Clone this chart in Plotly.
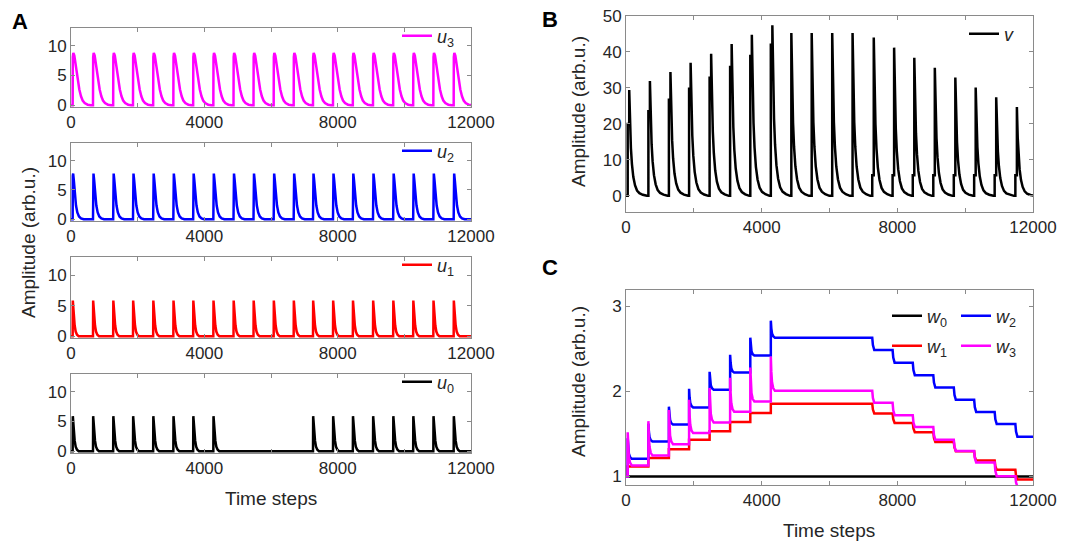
import plotly.graph_objects as go

# ---------------- data ----------------
# onset time of every input pulse (time steps)
pulse_t = [50, 660, 1265, 1860, 2465, 3070, 3665, 4270, 4875, 5475,
           6080, 6680, 7260, 7860, 8455, 9060, 9665, 10265, 10870, 11480]

# peak amplitudes of the inputs (None = no pulse)
u3_peak = [8.8] * 20
u2_peak = [7.8] * 20
u1_peak = [5.85] * 20
u0_peak = [5.9] * 8 + [None] * 4 + [5.9] * 8

u3_offs = [0, 5, 20, 50, 90, 150, 200, 250, 300, 360, 450, 550]
u3_frac = [0, 0.92, 1.0, 0.95, 0.75, 0.5, 0.3, 0.17, 0.09, 0.04, 0.01, 0]
u2_offs = [0, 5, 15, 35, 70, 100, 140, 190, 250, 330]
u2_frac = [0, 0.95, 1.0, 0.85, 0.5, 0.3, 0.15, 0.06, 0.02, 0]
u1_offs = [0, 5, 20, 40, 60, 90, 130, 180]
u1_frac = [0, 1.0, 0.75, 0.5, 0.3, 0.13, 0.04, 0]
u0_offs = [0, 5, 20, 40, 60, 90, 130, 180]
u0_frac = [0, 1.0, 0.75, 0.5, 0.3, 0.13, 0.04, 0]

# output v: shoulder level, then peak
v_peak = [29.4, 31.9, 34.4, 37.0, 39.5, 42.2, 44.8, 47.4, 45.3, 45.3,
          45.3, 45.3, 44.0, 41.2, 38.4, 35.6, 32.9, 30.1, 27.4, 24.7]
v_shoulder = [20.0, 23.5, 26.7, 29.8, 32.8, 35.8, 38.9, 42.0, None, None,
              None, None, 5.7, 5.7, 5.7, 5.7, 5.7, 5.7, 5.7, 5.7]
v_delay = 45
v_offs = [0, 10, 25, 50, 80, 120, 170, 230, 300, 400, 520]
v_frac = [1, 0.85, 0.65, 0.45, 0.3, 0.18, 0.1, 0.05, 0.025, 0.01, 0]

# weights: level reached after each pulse, and transient spike height
w0_level = [1.0] * 20
w1_level = [1.117, 1.218, 1.32, 1.43, 1.53, 1.64, 1.745, 1.854, 1.854, 1.854,
            1.854, 1.854, 1.74, 1.628, 1.52, 1.405, 1.296, 1.187, 1.078, 0.965]
w2_level = [1.207, 1.41, 1.61, 1.81, 2.02, 2.22, 2.42, 2.63, 2.63, 2.63,
            2.63, 2.63, 2.485, 2.337, 2.19, 2.045, 1.90, 1.756, 1.616, 1.468]
w3_level = [1.13, 1.245, 1.38, 1.51, 1.635, 1.76, 1.88, 2.006, 2.006, 2.006,
            2.006, 2.006, 1.865, 1.72, 1.58, 1.43, 1.30, 1.164, 1.004, 0.88]
w2_spike = [1.45, 1.62, 1.82, 2.03, 2.23, 2.43, 2.63, 2.83] + [None] * 12
w3_spike = [1.52, 1.65, 1.78, 1.90, 2.04, 2.16, 2.28, 2.41] + [None] * 12
spike_offs = [0, 15, 35, 70, 120]
spike_frac = [1, 0.55, 0.25, 0.08, 0]
step_offs = [0, 20, 60]
step_frac = [0, 0.6, 1.0]

T_END = 12000
x_ticks = [0, 4000, 8000, 12000]
x_text = ["0", "4000", "8000", "12000"]
x_minor_step = 2000

# ---------------- build traces ----------------
def pulse_train(peaks, offs, frac):
    xs, ys = [0], [0]
    for t, p in zip(pulse_t, peaks):
        if p is None:
            continue
        for o, f in zip(offs, frac):
            xs.append(t + o)
            ys.append(p * f)
    xs.append(T_END)
    ys.append(0)
    return xs, ys


def v_train():
    xs, ys = [0], [0]
    for t, p, s in zip(pulse_t, v_peak, v_shoulder):
        xs.append(t); ys.append(0)
        if s is not None:
            xs += [t, t + v_delay]; ys += [s, s]
            t0 = t + v_delay
        else:
            t0 = t
        for o, f in zip(v_offs, v_frac):
            xs.append(t0 + o)
            ys.append(p * f)
    xs.append(T_END); ys.append(0)
    return xs, ys


def w_train(levels, spikes=None):
    prev = 1.0
    xs, ys = [0], [prev]
    for i, t in enumerate(pulse_t):
        lvl = levels[i]
        sp = spikes[i] if spikes else None
        if lvl == prev and sp is None:
            continue
        xs.append(t); ys.append(prev)
        if sp is not None:
            for o, f in zip(spike_offs, spike_frac):
                xs.append(t + o)
                ys.append(lvl + (sp - lvl) * f)
        elif lvl < prev:
            for o, f in zip(step_offs, step_frac):
                xs.append(t + o)
                ys.append(prev + (lvl - prev) * f)
        else:
            xs.append(t); ys.append(lvl)
        prev = lvl
    xs.append(T_END); ys.append(prev)
    return xs, ys


W = 1069
H = 543
FONT = "Arial, Liberation Sans, sans-serif"
TXT = "#262626"
AX = "#8a8a8a"


def px(x):
    return x / W


def py(y):
    return 1 - y / H


fig = go.Figure()

A_left, A_right = 71, 471
A_rows = [
    ("", 28, 107, pulse_train(u3_peak, u3_offs, u3_frac), "#ff00ff", "<i>u</i><sub>3</sub>", "legend"),
    ("2", 143, 221, pulse_train(u2_peak, u2_offs, u2_frac), "#0000ff", "<i>u</i><sub>2</sub>", "legend2"),
    ("3", 257, 338, pulse_train(u1_peak, u1_offs, u1_frac), "#ff0000", "<i>u</i><sub>1</sub>", "legend3"),
    ("4", 374, 453, pulse_train(u0_peak, u0_offs, u0_frac), "#000000", "<i>u</i><sub>0</sub>", "legend4"),
]

axis_common = dict(showline=True, linecolor=AX, linewidth=1, mirror="allticks",
                   ticks="inside", ticklen=4, tickcolor=AX, showgrid=False,
                   zeroline=False, automargin=False,
                   tickfont=dict(family=FONT, size=17, color=TXT))
x_minor = dict(tick0=0, dtick=x_minor_step, ticks="inside", ticklen=4,
               tickcolor=AX, showgrid=False)

layout = dict(width=W, height=H, autosize=False,
              margin=dict(l=0, r=0, t=0, b=0, pad=0, autoexpand=False),
              template="none",
              paper_bgcolor="white", plot_bgcolor="white", showlegend=True)

for suf, ytop, ybot, (xs, ys), col, name, leg in A_rows:
    fig.add_trace(go.Scatter(x=xs, y=ys, mode="lines", line=dict(color=col, width=2.5),
                             name=name, xaxis="x" + suf, yaxis="y" + suf, legend=leg))
    layout["xaxis" + suf] = dict(domain=[px(A_left), px(A_right)], anchor="y" + suf,
                                 range=[0, T_END], tickvals=x_ticks, ticktext=x_text,
                                 minor=x_minor, **axis_common)
    layout["yaxis" + suf] = dict(domain=[py(ybot), py(ytop)], anchor="x" + suf,
                                 range=[-0.3, 13], tickvals=[0, 5, 10], **axis_common)
    layout[leg] = dict(x=px(397), y=py((ytop + 8)), xanchor="left", yanchor="middle",
                       bgcolor="rgba(0,0,0,0)", borderwidth=0,
                       font=dict(family=FONT, size=18, color=TXT))

B_left, B_right = 626, 1033
xs, ys = v_train()
fig.add_trace(go.Scatter(x=xs, y=ys, mode="lines", line=dict(color="#000000", width=2.5),
                         name="<i>v</i>", xaxis="x5", yaxis="y5", legend="legend5"))
layout["xaxis5"] = dict(domain=[px(B_left), px(B_right)], anchor="y5", range=[0, T_END],
                        tickvals=x_ticks, ticktext=x_text, minor=x_minor, **axis_common)
layout["yaxis5"] = dict(domain=[py(212), py(16)], anchor="x5", range=[-4.5, 50],
                        tickvals=[0, 10, 20, 30, 40, 50], **axis_common)
layout["legend5"] = dict(x=px(964), y=py(34), xanchor="left", yanchor="middle",
                         bgcolor="rgba(0,0,0,0)", borderwidth=0,
                         font=dict(family=FONT, size=18, color=TXT))

w_series = [
    (w_train(w0_level), "#000000", "<i>w</i><sub>0</sub>", "legend6", 887, 316),
    (w_train(w1_level), "#ff0000", "<i>w</i><sub>1</sub>", "legend7", 887, 346),
    (w_train(w2_level, w2_spike), "#0000ff", "<i>w</i><sub>2</sub>", "legend8", 956, 316),
    (w_train(w3_level, w3_spike), "#ff00ff", "<i>w</i><sub>3</sub>", "legend9", 956, 346),
]
for (xs, ys), col, name, leg, lx, ly in w_series:
    fig.add_trace(go.Scatter(x=xs, y=ys, mode="lines", line=dict(color=col, width=2.5),
                             name=name, xaxis="x6", yaxis="y6", legend=leg))
    layout[leg] = dict(x=px(lx), y=py(ly), xanchor="left", yanchor="middle",
                       bgcolor="rgba(0,0,0,0)", borderwidth=0,
                       font=dict(family=FONT, size=18, color=TXT))
layout["xaxis6"] = dict(domain=[px(B_left), px(B_right)], anchor="y6", range=[0, T_END],
                        tickvals=x_ticks, ticktext=x_text, minor=x_minor, **axis_common)
layout["yaxis6"] = dict(domain=[py(485), py(290)], anchor="x6", range=[0.9, 3.19],
                        tickvals=[1, 2, 3], **axis_common)

tfont = dict(family=FONT, size=19, color=TXT)
lfont = dict(family=FONT, size=22, color="#000000")
ann = [
    dict(text="Amplitude (arb.u.)", x=px(28), y=py(243), textangle=-90, font=tfont),
    dict(text="Time steps", x=px(271), y=py(498), font=tfont),
    dict(text="Amplitude (arb.u.)", x=px(578), y=py(112), textangle=-90, font=tfont),
    dict(text="Amplitude (arb.u.)", x=px(578), y=py(382), textangle=-90, font=tfont),
    dict(text="Time steps", x=px(829), y=py(530), font=tfont),
    dict(text="<b>A</b>", x=px(20), y=py(21), font=lfont),
    dict(text="<b>B</b>", x=px(550), y=py(19), font=lfont),
    dict(text="<b>C</b>", x=px(550), y=py(267), font=lfont),
]
layout["annotations"] = [dict(xref="paper", yref="paper", showarrow=False,
                              xanchor="center", yanchor="middle", **a) for a in ann]

fig.update_layout(**layout)
fig.write_html("out.html", config={"displayModeBar": False},
               post_script="document.body.style.margin='0px';document.body.style.overflow='hidden';")
